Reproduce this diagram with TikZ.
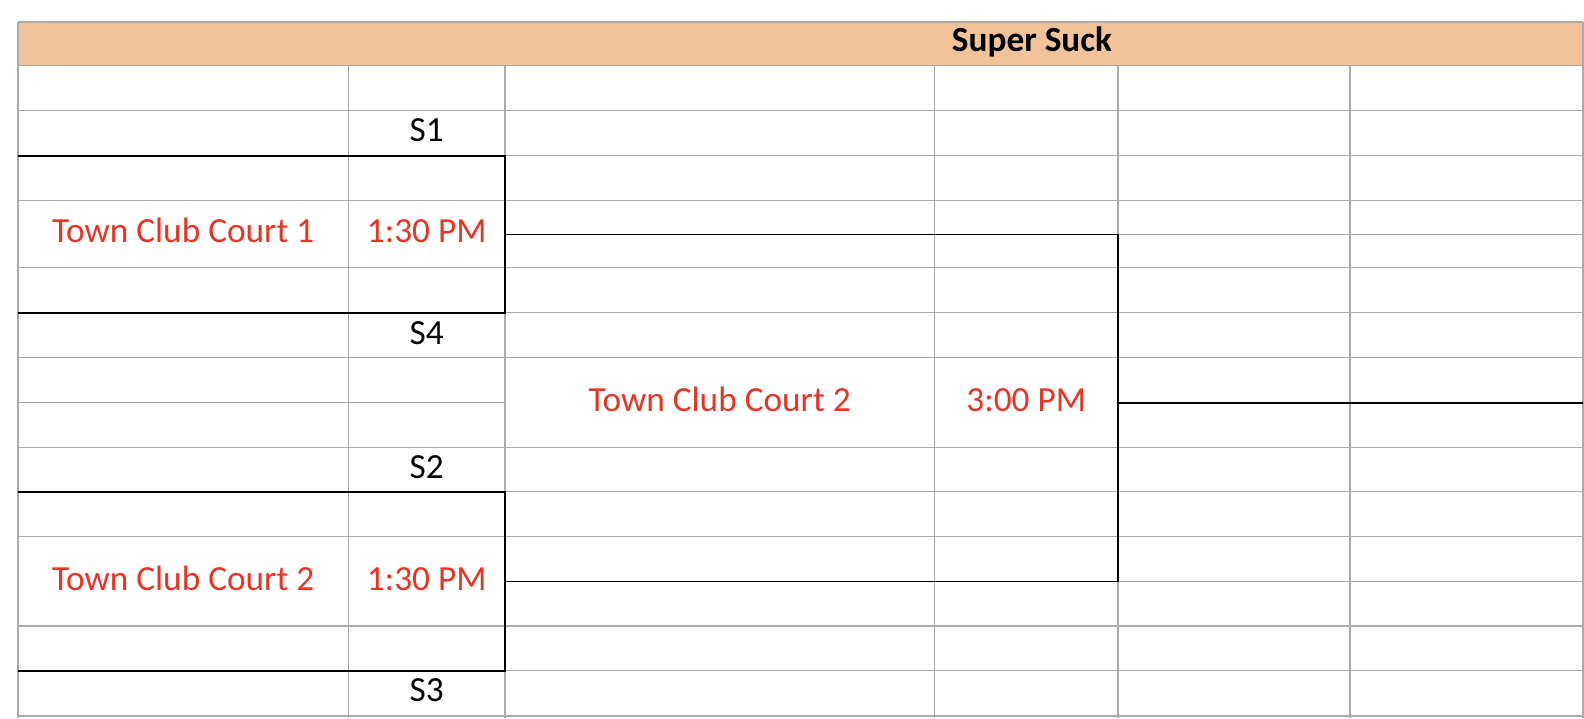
\documentclass[tikz,border=0pt]{standalone}
\usepackage{fontspec}
\setmainfont{Carlito}
\usepackage{xcolor}
\usepackage{tikz}

\definecolor{gridgray}{RGB}{170,170,170}
\definecolor{headorange}{RGB}{241,195,154}
\definecolor{courtred}{RGB}{232,52,36}

\begin{document}
\begin{tikzpicture}[x=1pt,y=-1pt,
    grid/.style={gridgray,line width=1.5pt},
    bracket/.style={black,line width=1.6pt},
    celltext/.style={anchor=base,inner sep=0pt,font=\fontsize{35.3}{41}\selectfont},
    courttext/.style={celltext,text=courtred}]

        % Page
        \useasboundingbox (0,0) rectangle (1584,718);
        \fill[white] (0,0) rectangle (1584,718);

        % Header band
        \fill[headorange] (18,22) rectangle (1583,65.7);

        % Row lines (full width)
        \foreach \y in {22,65.7,110.7,155.7,200.7,267.7,312.7,357.7,447.3,491.7,536.7,626,670.7,716} {
            \draw[grid] (18,\y) -- (1583,\y);
        }
        % Row lines (partial, where cells are not merged)
        \foreach \y in {234.5,581.3} {
            \draw[grid] (1118,\y) -- (1583,\y);
        }
        \draw[grid] (18,402.7) -- (505,402.7);

        % Column lines
        \draw[grid] (18,22) -- (18,718);
        \draw[grid] (1583,22) -- (1583,718);
        \foreach \x in {348.5,505,934.5,1118,1350} {
            \draw[grid] (\x,65.7) -- (\x,718);
        }

        % Title
        \node[celltext,font=\fontsize{35.3}{41}\selectfont\bfseries] (title) at (1032,51.7) {Super Suck};

        % Seeds
        \node[celltext] (s1) at (426.7,141.8) {S1};
        \node[celltext] (s4) at (426.7,344) {S4};
        \node[celltext] (s2) at (426.7,478) {S2};
        \node[celltext] (s3) at (426.7,701.5) {S3};

        % Semifinals
        \node[courttext] (court1) at (183.2,242.9) {Town Club Court 1};
        \node[courttext] (time1) at (426.7,242.9) {1:30 PM};
        \node[courttext] (court2) at (183.2,590) {Town Club Court 2};
        \node[courttext] (time2) at (426.7,590) {1:30 PM};

        % Final
        \node[courttext] (finalcourt) at (719.7,411) {Town Club Court 2};
        \node[courttext] (finaltime) at (1026.2,411) {3:00 PM};

        % Bracket corners
        \coordinate (sf1top) at (18,155.7);
        \coordinate (sf1bot) at (18,312.7);
        \coordinate (sf1out) at (505,234.5);
        \coordinate (sf2top) at (18,491.7);
        \coordinate (sf2bot) at (18,670.7);
        \coordinate (sf2out) at (505,581.3);
        \coordinate (fjoin) at (1118,402.7);
        \coordinate (champ) at (1583,402.7);

        % Bracket lines
        \draw[bracket] (sf1top) -| (sf1out |- sf1bot) -- (sf1bot);
        \draw[bracket] (sf2top) -| (sf2out |- sf2bot) -- (sf2bot);
        \draw[bracket] (sf1out) -| (fjoin |- sf2out) -- (sf2out);
        \draw[bracket] (fjoin) -- (champ);

    \end{tikzpicture}
\end{document}
